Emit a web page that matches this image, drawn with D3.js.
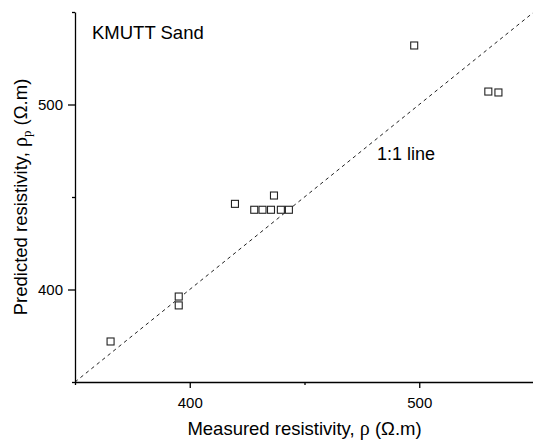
<!DOCTYPE html>
<html>
<head>
<meta charset="utf-8">
<script src="https://cdn.jsdelivr.net/npm/d3@7"></script>
<style>
  body { margin: 0; background: #fff; }
  svg { display: block; font-family: "Liberation Sans", Arial, sans-serif; }
</style>
</head>
<body>
<svg id="svg1"></svg>
<script>
// data
const measured  = [365.5, 395.2, 395.2, 419.7, 428.1, 431.7, 435.4, 436.7, 439.7, 443.2, 497.8, 530.1, 534.5];
const predicted = [371.9, 396.2, 391.4, 446.3, 443.1, 443.1, 443.1, 450.8, 443.1, 443.1, 531.9, 507.0, 506.5];
const majorTicks = [400, 500];
const minorTicks = [350, 450, 550];
const axisDomain = [350, 550];

const width = 533;
const height = 442;

const svg = d3.select('#svg1')
    .attr('width', width)
    .attr('height', height);

// scales
const x = d3.scaleLinear().domain(axisDomain).range([75, 534]);
const y = d3.scaleLinear().domain(axisDomain).range([382, 12]);

// 1:1 line
svg.append("line")
    .attr("x1", x(axisDomain[0])).attr("y1", y(axisDomain[0]))
    .attr("x2", x(axisDomain[1])).attr("y2", y(axisDomain[1]))
    .attr("stroke", "#222")
    .attr("stroke-width", 1)
    .attr("stroke-dasharray", "3.5,3.5");

// X axis
const xAxis = svg.append("g")
    .attr("transform", "translate(0," + y(axisDomain[0]) + ")")
    .call(d3.axisBottom(x).tickValues(majorTicks).tickSize(6).tickSizeOuter(0).tickPadding(9));
svg.append("g")
    .attr("transform", "translate(0," + y(axisDomain[0]) + ")")
    .call(d3.axisBottom(x).tickValues(minorTicks).tickSize(3).tickFormat("").tickSizeOuter(0))
    .select(".domain").remove();

// Y axis
const yAxis = svg.append("g")
    .attr("transform", "translate(" + x(axisDomain[0]) + ",0)")
    .call(d3.axisLeft(y).tickValues(majorTicks).tickSize(7).tickSizeOuter(0).tickPadding(5));
svg.append("g")
    .attr("transform", "translate(" + x(axisDomain[0]) + ",0)")
    .call(d3.axisLeft(y).tickValues(minorTicks).tickSize(3).tickFormat("").tickSizeOuter(0))
    .select(".domain").remove();

svg.selectAll(".domain").attr("stroke", "#000").attr("stroke-width", 1.3);
svg.selectAll(".tick line").attr("stroke", "#000").attr("stroke-width", 1.3);
svg.selectAll(".tick text")
    .attr("fill", "#000")
    .style("font-size", "15px")
    .style("font-family", "'Liberation Sans', Arial, sans-serif");

// points
const pts = measured.map((m, i) => ({m: m, p: predicted[i]}));
svg.selectAll("rect.pt")
    .data(pts)
    .enter()
    .append("rect")
    .attr("class", "pt")
    .attr("x", d => x(d.m) - 3.5)
    .attr("y", d => y(d.p) - 3.5)
    .attr("width", 7)
    .attr("height", 7)
    .attr("fill", "#fff")
    .attr("stroke", "#222")
    .attr("stroke-width", 1.1);

// labels
svg.append("text")
    .attr("x", 92).attr("y", 39)
    .style("font-size", "18.5px")
    .text("KMUTT Sand");

svg.append("text")
    .attr("x", 377).attr("y", 160)
    .style("font-size", "18px")
    .text("1:1 line");

const xl = svg.append("text")
    .attr("x", (x(axisDomain[0]) + x(axisDomain[1])) / 2)
    .attr("y", 435)
    .attr("text-anchor", "middle")
    .style("font-size", "18.5px");
xl.append("tspan").text("Measured resistivity, ");
xl.append("tspan").style("font-family", "'Liberation Serif', serif").style("font-size", "20px").text("ρ");
xl.append("tspan").text(" (Ω.m)");

const yl = svg.append("text")
    .attr("transform", "translate(27," + (y(axisDomain[0]) + y(axisDomain[1])) / 2 + ") rotate(-90)")
    .attr("text-anchor", "middle")
    .style("font-size", "18.5px");
yl.append("tspan").text("Predicted resistivity, ");
yl.append("tspan").style("font-family", "'Liberation Serif', serif").style("font-size", "20px").text("ρ");
yl.append("tspan").attr("dy", 4).style("font-family", "'Liberation Serif', serif").style("font-size", "13px").text("p");
yl.append("tspan").attr("dy", -4).text(" (Ω.m)");
</script>
</body>
</html>
